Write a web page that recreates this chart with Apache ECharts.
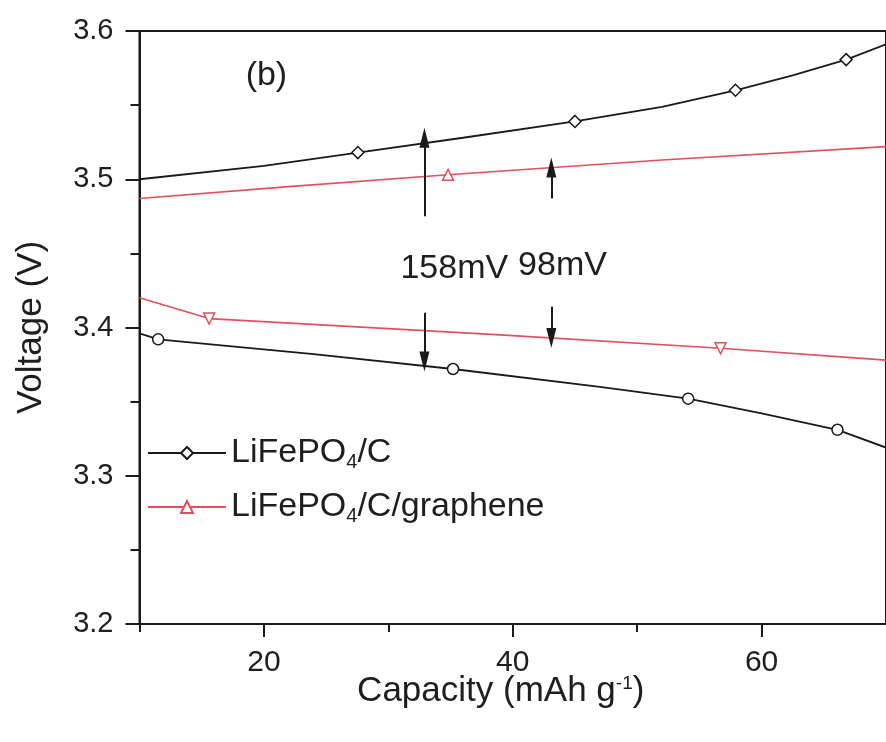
<!DOCTYPE html>
<html>
<head>
<meta charset="utf-8">
<script src="https://cdn.jsdelivr.net/npm/echarts@6/dist/echarts.min.js"></script>
<style>
html,body{margin:0;padding:0;background:#fff;}
#c{width:886px;height:742px;}
</style>
</head>
<body>
<div id="c"></div>
<script>
// ---- data ----
const seriesNames = ['LiFePO4/C', 'LiFePO4/C/graphene'];
// charge plateau, LiFePO4/C
const chargeC = [[10,3.500],[20,3.509],[27.55,3.518],[36,3.528],[45.0,3.539],[52,3.5488],[57.9,3.560],[62.5,3.570],[66.8,3.5807],[70,3.591]];
const chargeCMarked = [0,0,1,0,1,0,1,0,1,0];
// discharge plateau, LiFePO4/C
const dischargeC = [[10,3.396],[11.5,3.392],[24,3.382],[35.2,3.372],[47,3.360],[54.1,3.352],[60,3.342],[66.1,3.331],[70,3.319]];
const dischargeCMarked = [0,1,0,1,0,1,0,1,0];
// charge plateau, LiFePO4/C/graphene
const chargeG = [[10,3.487],[22,3.495],[34.8,3.503],[52,3.513],[70,3.522]];
const chargeGMarked = [0,0,1,0,0];
// discharge plateau, LiFePO4/C/graphene
const dischargeG = [[10,3.420],[15.6,3.406],[39,3.395],[56.7,3.386],[70,3.378]];
const dischargeGMarked = [0,1,0,1,0];
// annotation arrows: [x, yStart, yEnd]
const arrows = [[32.9,3.475,3.528],[32.9,3.410,3.377],[43.1,3.487,3.508],[43.1,3.414,3.393]];
// annotation texts: [x, y, text]
const notes = [[35.3,3.440,'158mV'],[44.0,3.442,'98mV'],[20.2,3.570,'(b)']];
const xMajorTicks = [20,40,60];
const xMinorTicks = [10,30,50];

const FONT = '"Liberation Sans", Arial, sans-serif';
const BLACK = '#1a1a1a';
const TEXT = '#1e1e1e';
const RED = '#e0505e';

function build(points, marked) {
  return points.map((p, i) => marked[i] ? {value: p} : {value: p, symbol: 'none'});
}

const chart = echarts.init(document.getElementById('c'), null, {renderer: 'canvas'});
chart.setOption({
  animation: false,
  backgroundColor: '#fff',
  grid: {left: 139.5, top: 31, right: -1, bottom: 118, show: true, borderColor: BLACK, borderWidth: 2, containLabel: false},
  legend: {
    orient: 'vertical', left: 147, top: 434, padding: 0, itemWidth: 78, itemHeight: 15, itemGap: 16,
    data: seriesNames,
    textStyle: {fontSize: 34, fontFamily: FONT, color: TEXT, lineHeight: 38,
      rich: {sub: {fontSize: 20, fontFamily: FONT, color: TEXT, verticalAlign: 'bottom', lineHeight: 16}}},
    formatter: n => n.replace('PO4', 'PO{sub|4}')
  },
  xAxis: [{
    type: 'value', min: 10, max: 70, interval: 10,
    name: 'Capacity (mAh g{sup|-1})', nameLocation: 'middle', nameGap: 50, nameMoveOverlap: false,
    nameTextStyle: {fontSize: 35, fontFamily: FONT, color: TEXT, padding: [0, 24, 0, 0],
      rich: {sup: {fontSize: 19, fontFamily: FONT, color: TEXT, verticalAlign: 'top', lineHeight: 18}}},
    axisLine: {show: true, onZero: false, lineStyle: {color: BLACK, width: 2}},
    axisTick: {show: true, inside: false, length: 13, lineStyle: {color: BLACK, width: 2}, customValues: xMajorTicks},
    axisLabel: {show: true, margin: 24, fontSize: 30, fontFamily: FONT, color: TEXT, customValues: xMajorTicks},
    splitLine: {show: false}
  }, {
    type: 'value', min: 10, max: 70, interval: 10, position: 'bottom',
    axisLine: {show: false},
    axisTick: {show: true, inside: false, length: 8, lineStyle: {color: BLACK, width: 2}, customValues: xMinorTicks},
    axisLabel: {show: false},
    splitLine: {show: false}
  }],
  yAxis: {
    type: 'value', min: 3.2, max: 3.6, interval: 0.1,
    name: 'Voltage (V)', nameLocation: 'middle', nameGap: 91,
    nameTextStyle: {fontSize: 35, fontFamily: FONT, color: TEXT},
    axisLine: {show: true, onZero: false, lineStyle: {color: BLACK, width: 2}},
    axisTick: {show: true, inside: false, length: 14, lineStyle: {color: BLACK, width: 2}},
    minorTick: {show: true, splitNumber: 2, length: 9, lineStyle: {color: BLACK, width: 2}},
    axisLabel: {margin: 26, fontSize: 29, fontFamily: FONT, color: TEXT, formatter: v => v.toFixed(1)},
    splitLine: {show: false}
  },
  series: [
    {name: seriesNames[0], type: 'line', data: build(chargeC, chargeCMarked), symbol: 'diamond', symbolSize: 12,
     showAllSymbol: true, lineStyle: {color: BLACK, width: 1.8}, itemStyle: {color: '#fff', borderColor: BLACK, borderWidth: 1.5}, z: 3},
    {name: seriesNames[0], type: 'line', data: build(dischargeC, dischargeCMarked), symbol: 'circle', symbolSize: 11,
     showAllSymbol: true, lineStyle: {color: BLACK, width: 1.8}, itemStyle: {color: '#fff', borderColor: BLACK, borderWidth: 1.5}, z: 3},
    {name: seriesNames[1], type: 'line', data: build(chargeG, chargeGMarked), symbol: 'triangle', symbolSize: 11,
     showAllSymbol: true, lineStyle: {color: RED, width: 1.6}, itemStyle: {color: '#fff', borderColor: RED, borderWidth: 1.5}, z: 3},
    {name: seriesNames[1], type: 'line', data: build(dischargeG, dischargeGMarked), symbol: 'triangle', symbolRotate: 180, symbolSize: 11,
     showAllSymbol: true, lineStyle: {color: RED, width: 1.6}, itemStyle: {color: '#fff', borderColor: RED, borderWidth: 1.5}, z: 3},
    {name: 'arrows', type: 'line', data: [], silent: true,
     markLine: {silent: true, symbol: ['none', 'triangle'], symbolSize: [10, 20], animation: false,
       label: {show: false}, lineStyle: {color: BLACK, width: 2, type: 'solid'},
       data: arrows.map(a => [{coord: [a[0], a[1]]}, {coord: [a[0], a[2]]}])}},
    {name: 'notes', type: 'scatter', data: notes.map(n => ({value: [n[0], n[1]], label: {formatter: n[2]}})),
     symbolSize: 0, silent: true, itemStyle: {opacity: 1},
     label: {show: true, position: 'inside', fontSize: 34, fontFamily: FONT, color: TEXT, opacity: 1}}
  ]
});
</script>
</body>
</html>
